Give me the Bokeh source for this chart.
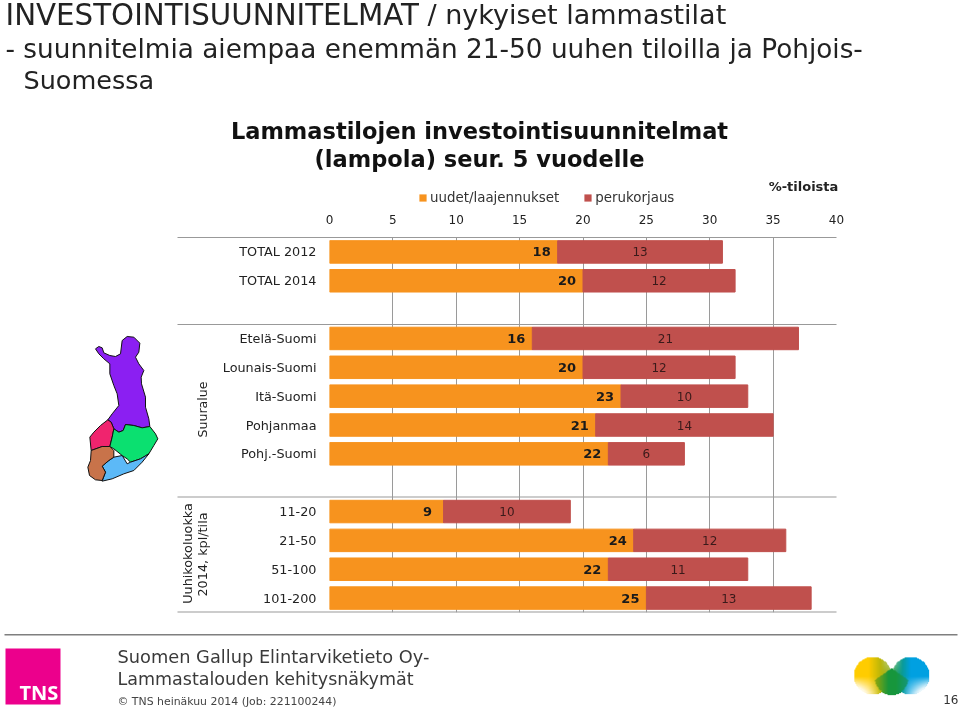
from bokeh.plotting import figure
from bokeh.models import ColumnDataSource, FactorRange, Range1d, Legend, LegendItem, FixedTicker
from bokeh.core.properties import value
from bokeh.embed import file_html
from bokeh.resources import INLINE

categories = ["TOTAL 2012", "TOTAL 2014", " ", "Etelä-Suomi", "Lounais-Suomi", "Itä-Suomi", "Pohjanmaa",
              "Pohj.-Suomi", "  ", "11-20", "21-50", "51-100", "101-200"]
bar_categories = [c for c in categories if c.strip()]
new_values = [18, 20, 16, 20, 23, 21, 22, 9, 24, 22, 25]
renovation_values = [13, 12, 21, 12, 10, 14, 6, 10, 12, 11, 13]
x_ticks = [0, 5, 10, 15, 20, 25, 30, 35, 40]
ORANGE, RED = "#F7931E", "#C0504D"

FX0, FX1, FY0, FY1 = 329, 836, 237, 612
W, H = 960, 708
FONT = "DejaVu Sans"

# ---- page layer: headings, map, footer (coordinates are page pixels)
bg = figure(width=W, height=H, output_backend="svg", toolbar_location=None, x_range=Range1d(0, W), y_range=Range1d(H, 0),
            x_axis_location=None, y_axis_location=None, min_border=0, outline_line_color=None)
bg.grid.visible = False
bg.styles = {"position": "fixed", "left": "0px", "top": "0px"}


def lab(px, py, text, size, color="#333333", style="normal", align="left", angle=0, font=FONT):
    bg.text(x=[px], y=[py], text=[text], text_font=value(font), text_font_size=f"{size}px", text_color=color,
            text_font_style=style, text_align=align, text_baseline="middle", angle=angle, angle_units="deg")


def rect(x0, x1, y0, y1, color):
    bg.quad(left=[x0], right=[x1], top=[y0], bottom=[y1], fill_color=color, line_color=None)


def poly(pts, fill, line=None):
    bg.patch([a for a, _ in pts], [b for _, b in pts], fill_color=fill, line_color=line, line_width=1)


lab(5, 14, "INVESTOINTISUUNNITELMAT", 29.3, "#222222")
lab(427, 14, "/ nykyiset lammastilat", 27, "#222222")
lab(5, 48, "- suunnitelmia aiempaa enemmän 21-50 uuhen tiloilla ja Pohjois-", 26.3, "#222222")
lab(23, 79, "Suomessa", 25.5, "#222222")
lab(479, 130, "Lammastilojen investointisuunnitelmat", 22.5, "#111111", "bold", "center")
lab(479, 158, "(lampola) seur. 5 vuodelle", 22.5, "#111111", "bold", "center")
lab(803, 186, "%-tiloista", 13, "#222222", "bold", "center")
lab(202, 409, "Suuralue", 12.6, "#222222", angle=90, align="center")
lab(187, 553, "Uuhikokoluokka", 12.8, "#222222", angle=90, align="center")
lab(202, 554, "2014, kpl/tila", 12.8, "#222222", angle=90, align="center")

for yy in (237, 324, 496.5, 611.5):
    rect(177, FX1, yy - 0.5, yy + 0.5, "#999999")
rect(4, 957, 633.5, 635, "#7f7f7f")
rect(5, 60, 648, 704, "#EC008C")
lab(19, 692, "TNS", 20, "#ffffff", "bold", font="Open Sans")
lab(117, 656, "Suomen Gallup Elintarviketieto Oy-", 17.8, "#3a3a3a")
lab(117, 678, "Lammastalouden kehitysnäkymät", 17.5, "#3a3a3a")
lab(117, 701, "© TNS heinäkuu 2014 (Job: 221100244)", 10.9, "#444444")
lab(958, 699, "16", 12, "#333333", align="right")

nan = float("nan")
l1 = bg.quad(left=[nan], right=[nan], top=[nan], bottom=[nan], fill_color=ORANGE, line_color=None)
l2 = bg.quad(left=[nan], right=[nan], top=[nan], bottom=[nan], fill_color=RED, line_color=None)
leg = Legend(items=[LegendItem(label="uudet/laajennukset", renderers=[l1]), LegendItem(label="perukorjaus", renderers=[l2])],
             orientation="horizontal", location=(418, H - 205), background_fill_alpha=0, border_line_color=None,
             label_text_font=FONT, label_text_font_size="13.4px", label_text_color="#333333",
             glyph_width=9, glyph_height=9, spacing=24, margin=0, padding=0, label_standoff=3)
bg.add_layout(leg, "center")

Z = lambda pts: [(70 + a / 3, 320 + b / 3) for a, b in pts]
poly(Z([(75,85),(85,78),(95,82),(100,97),(118,105),(135,108),(150,100),(155,60),(170,48),(190,50),(208,68),(205,95),
        (195,110),(205,130),(220,150),(212,170),(213,190),(225,230),(225,260),(235,295),(238,318),(215,322),(190,315),
        (165,312),(158,330),(145,335),(130,325),(122,305),(112,298),(125,280),(145,255),(140,220),(130,195),(118,160),
        (118,130),(100,115),(85,100)]), "#8B1FF2", "#111111")
poly(Z([(112,298),(122,305),(130,325),(125,350),(118,378),(95,378),(62,390),(58,350),(70,335),(90,315)]), "#F0246E", "#111111")
poly(Z([(130,325),(145,335),(158,330),(165,312),(190,315),(215,322),(238,318),(255,340),(262,355),(250,375),(235,400),
        (210,415),(180,425),(170,415),(155,405),(130,385),(118,378),(125,350)]), "#0BE070", "#111111")
poly(Z([(130,410),(155,405),(170,430),(180,425),(210,415),(235,400),(215,425),(190,450),(160,460),(125,475),(95,482),
        (105,455),(95,437),(115,420)]), "#5CB9F7", "#111111")
poly(Z([(62,390),(95,378),(118,378),(130,390),(130,410),(115,420),(95,437),(105,455),(95,480),(75,478),(57,465),
        (52,440),(60,420)]), "#C8734A", "#111111")


# small logo, painted as overlapping cells
def lerp(a, b, t):
    t = max(0.0, min(1.0, t))
    return tuple(a[i] + (b[i] - a[i]) * t for i in range(3))


YEL, OLV, GRN, BLU, WHT = (255, 204, 0), (130, 165, 20), (25, 150, 60), (0, 160, 225), (255, 255, 255)
ls, rs, ts, bs, cs = [], [], [], [], []
for y in range(656, 696):
    for x in range(852, 930):
        px, py = x + 0.5, y + 0.5
        col = None
        if (px - 872) ** 2 + (py - 675) ** 2 < 18.5 ** 2:
            col = lerp(YEL, OLV, (px - 868) / 22)
            col = lerp(col, WHT, (py - 676) / 17 * (880 - px) / 16)
        if (px - 910) ** 2 + (py - 675) ** 2 < 18.5 ** 2:
            col = lerp(GRN, BLU, (px - 892) / 18)
            col = lerp(col, WHT, (py - 676) / 17 * (px - 902) / 16)
        if (px - 891) ** 2 + (py - 677) ** 2 < 17 ** 2 and py > 668 + abs(px - 891) * 0.7:
            col = lerp(OLV, GRN, (px - 876) / 12) if px < 891 else lerp(GRN, (20, 150, 120), (px - 895) / 12)
        if col:
            ls.append(x); rs.append(x + 1.6); ts.append(y); bs.append(y + 1.6)
            cs.append("#%02x%02x%02x" % tuple(int(v) for v in col))
bg.quad(left=ls, right=rs, top=ts, bottom=bs, fill_color=cs, line_color=None)

# ---- chart layer
src = ColumnDataSource(dict(
    cat=bar_categories, new=new_values, ren=renovation_values,
    end=[a + b for a, b in zip(new_values, renovation_values)],
    mid=[a + b / 2 for a, b in zip(new_values, renovation_values)],
    zero=[0] * len(new_values),
    newt=[str(v) for v in new_values], rent=[str(v) for v in renovation_values],
))

p = figure(width=W, height=H, output_backend="svg", toolbar_location=None,
           x_range=Range1d(0, 40), y_range=FactorRange(factors=categories[::-1], range_padding=0),
           x_axis_location="above", min_border_left=FX0, min_border_right=W - FX1,
           min_border_top=FY0, min_border_bottom=H - FY1, outline_line_color=None,
           background_fill_alpha=0, border_fill_alpha=0)
p.styles = {"position": "fixed", "left": "0px", "top": "0px"}

p.hbar(y="cat", left="zero", right="new", height=0.78, color=ORANGE, source=src)
p.hbar(y="cat", left="new", right="end", height=0.78, color=RED, source=src)
p.text(x="new", y="cat", text="newt", source=src, x_offset=-16, text_align="center", text_baseline="middle",
       text_font=value(FONT), text_font_size="13px", text_font_style="bold", text_color="#1a1a1a")
p.text(x="mid", y="cat", text="rent", source=src, text_align="center", text_baseline="middle",
       text_font=value(FONT), text_font_size="12px", text_color="#3a1a1a")

ax = p.xaxis[0]
ax.ticker = FixedTicker(ticks=x_ticks)
ax.axis_line_color = None
ax.major_tick_line_color = None
ax.minor_tick_line_color = None
ax.major_label_standoff = 8
ax.major_label_text_font = FONT
ax.major_label_text_font_size = "12px"
ax.major_label_text_color = "#222222"
ay = p.yaxis[0]
ay.axis_line_color = None
ay.major_tick_line_color = None
ay.minor_tick_line_color = None
ay.major_label_standoff = 7
ay.major_label_text_font = FONT
ay.major_label_text_font_size = "12.8px"
ay.major_label_text_color = "#222222"
p.ygrid.grid_line_color = None
p.xgrid.ticker = FixedTicker(ticks=x_ticks)
p.xgrid.grid_line_color = "#9a9a9a"
p.xgrid.grid_line_width = 1

open("out.html", "w").write(file_html([bg, p], INLINE))
